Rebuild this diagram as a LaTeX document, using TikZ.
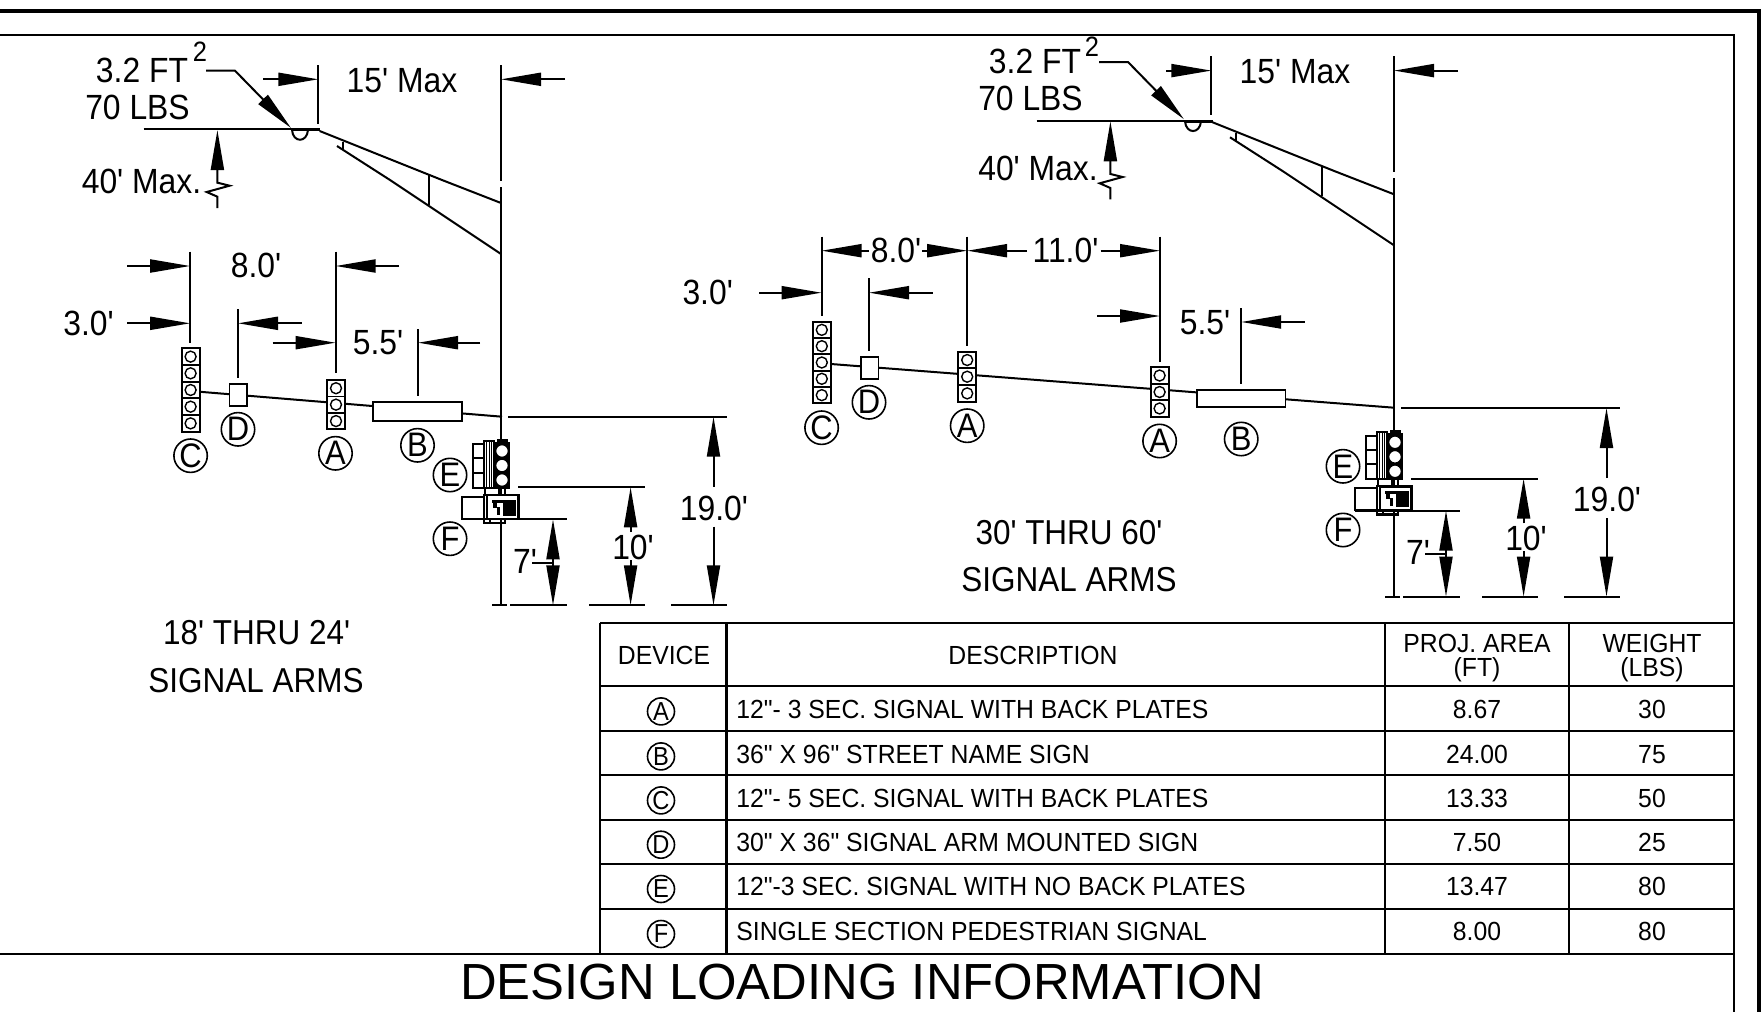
\documentclass[tikz,border=0pt]{standalone}
\usepackage{fontspec}
\setmainfont{Liberation Sans}
\newfontfamily\narrowfont[FakeStretch=0.91]{Liberation Sans}
\newfontfamily\cellfont[FakeStretch=0.945]{Liberation Sans}
\usetikzlibrary{arrows.meta}

\begin{document}
\begin{tikzpicture}
	[%
	x=0.5pt, y=-0.5pt,%
	dimtext/.style  ={font=\narrowfont\fontsize{17.5}{20}\selectfont,	anchor=base,	inner sep=0pt},%
	armtext/.style  ={font=\narrowfont\fontsize{17.3}{20}\selectfont,	anchor=base,	inner sep=0pt},%
	suptext/.style  ={font=\narrowfont\fontsize{14}{16}\selectfont,	anchor=base,	inner sep=0pt},%
	celltext/.style ={font=\cellfont\fontsize{13.1}{15}\selectfont,	anchor=base,	inner sep=0pt},%
	device/.style   ={circle,	draw,	line width=0.8pt,	inner sep=0pt,	minimum size=16.7pt,	font=\narrowfont\fontsize{17}{19}\selectfont},%
	devicesm/.style ={circle,	draw,	line width=0.8pt,	inner sep=0pt,	minimum size=13.5pt,	font=\narrowfont\fontsize{13}{15}\selectfont},%
	wire/.style     ={line width=1pt},%
	dimarrow/.style ={line width=1pt,	-{Triangle[length=20pt,width=6.5pt]}},%
	part/.style     ={line width=0.9pt,	fill=white},%
	]

	% section of a signal head: x, top y, number of sections, section height
	\newcommand{\sighead}[4]{%
		\foreach \i in {1,...,#3} {%
			\draw [part] (#1-9,#2+#4*\i-#4) rectangle (#1+9,#2+#4*\i);
			\draw [line width=0.7pt] (#1,#2+#4*\i-#4/2) circle (5.5);
		}%
	}

	\useasboundingbox (0,0) rectangle (1763,1012);

	% sheet frame
	\draw [line width=2pt] (0,10.7) -- (1759,10.7) -- (1759,1012);
	\draw [line width=1.1pt] (0,35) -- (1734,35) -- (1734,1012);
	\draw [line width=1.1pt] (0,954) -- (1734,954);

	% parts that both arms share
	\foreach \dx/\dy/\side/\tail in {0/0/l/263,893/-8.7/r/273} {%
	\begin{scope}[shift={(\dx,\dy)}]
		% mast arm and pole
		\draw [wire] (501,65) -- (501,181);
		\draw [wire] (501,187) -- (501,605.3);
		\draw [wire] (143.5,129.3) -- (319.6,129.3);
		\draw [line width=1.4pt] (292,130) -- (319.6,130);
		\draw [wire] (292,130) .. controls (293,143) and (307,143) .. (308,130);
		\draw [wire] (319.6,131) -- (442,180) -- (501,203);
		\draw [wire] (337,146) -- (390,180) -- (501,254);
		\draw [wire] (342.5,141.7) -- (342.5,150);
		\draw [wire] (428.6,175) -- (428.6,205);

		% load on the arm tip
		\node (area\side) at (142,82) [dimtext] {3.2 FT};
		\node (lbs\side) at (137.5,119) [dimtext] {70 LBS};
		\draw [dimarrow] (206,70.7) -- (235,70.7) -- (291,128);

		% arm length
		\node (span\side) at (402,92) [dimtext] {15' Max};
		\draw [wire] (318.4,65) -- (318.4,124);
		\draw [dimarrow] (\tail,79.3) -- (318.4,79.3);
		\draw [dimarrow] (565,79.3) -- (501,79.3);
		\draw [dimarrow] (217.4,208) -- (217.4,196.7) -- (206.7,192) -- (229.6,185.7) -- (217.4,182.7) -- (217.4,130);

		% heights
		\draw [wire] (508,416.7) -- (727,416.7);
		\draw [wire] (518,487.3) -- (645,487.3);
		\draw [wire] (462,519.3) -- (567,519.3);
		\draw [wire] (492,605.3) -- (507,605.3);
		\draw [wire] (510,605.3) -- (567,605.3);
		\draw [wire] (589,605.3) -- (645,605.3);
		\draw [wire] (671.4,605.3) -- (727,605.3);
		\draw [dimarrow] (713.5,486.7) -- (713.5,416.7);
		\draw [dimarrow] (713.5,526.7) -- (713.5,605.3);
		\draw [dimarrow] (630.6,532) -- (630.6,487.3);
		\draw [dimarrow] (630.6,560) -- (630.6,605.3);
		\draw [dimarrow] (553,562.7) -- (553,519.3);
		\draw [dimarrow] (553,562.7) -- (553,605.3);
		\draw [wire] (532,562.7) -- (553,562.7);
		\node (hsev\side) at (525,573) [dimtext] {7'};
		\node (hten\side) at (633,559) [dimtext] {10'};
		\node (hnin\side) at (714,520) [dimtext] {19.0'};

		% side mounted signal
		\foreach \i/\j in {444.3/458.3,458.3/472.7,472.7/487.7}%
			\draw [part] (472.7,\i) rectangle (483.7,\j);
		\draw [part] (483.7,441) rectangle (494,487.7);
		\foreach \i in {486.5,489,491.5}%
			\draw [line width=0.5pt] (\i,441) -- (\i,487.7);
		\draw [line width=1pt] (485,487.7) -- (485,495);
		\draw [line width=1pt] (499,487.7) -- (499,495);
		\draw [line width=1pt] (505,487.7) -- (505,495);
		\draw [fill=black] (497,439) rectangle (507,442.7);
		\draw [line width=1pt, fill=black] (494,442.7) rectangle (509.4,487.7);
		\foreach \i in {451,465.5,480}%
			\draw [line width=0.9pt, fill=white] (502,\i) circle (6.6);

		% pedestrian signal
		\draw [part] (462,496.7) rectangle (483.7,519);
		\draw [part] (483.7,495) rectangle (490,522.7);
		\draw [line width=1.2pt] (484,519) rectangle (505,523);
		\draw [line width=1.2pt, fill=white] (487,495) rectangle (518.4,519);
		\fill (492,499.5) rectangle (516,503);
		\fill (503,503) rectangle (516,516);
		\fill (493,503) rectangle (497,508);
		\fill (497,507) rectangle (500,515);

		% device labels at the pole
		\node (devE\side) at (450,475) [device] {E};
		\node (devF\side) at (450,538.7) [device] {F};
	\end{scope}
	}

	% 18' THRU 24'
	\node (expl) at (200,61.7) [suptext] {2};
	\node (maxl) at (141.5,193) [dimtext] {40' Max.};
	\foreach \i/\j/\k/\l in {190.2/251.7/190.2/342.7,335.6/251.7/335.6/373,238/309/238/377.7,418/329/418/396}%
		\draw [wire] (\i,\j) -- (\k,\l);
	\draw [dimarrow] (127.4,266) -- (190.2,266);
	\draw [dimarrow] (399,266) -- (335.6,266);
	\draw [dimarrow] (127.4,323.3) -- (190.2,323.3);
	\draw [dimarrow] (301.6,323.3) -- (238,323.3);
	\draw [dimarrow] (272.5,342.7) -- (335.6,342.7);
	\draw [dimarrow] (480,342.7) -- (418,342.7);
	\node (lwide) at (256,277) [dimtext] {8.0'};
	\node (lend) at (88.5,335) [dimtext] {3.0'};
	\node (lname) at (378,354) [dimtext] {5.5'};

	\draw [wire] (199,391.7) -- (502,416.7);
	\draw [part] (229.4,384) rectangle (247,405.7);
	\draw [part] (372.6,402.3) rectangle (462,421.3);
	\sighead{190.6}{348.3}{5}{16.68}
	\sighead{336}{380}{3}{16.43}
	\node (lC) at (190.6,455.7) [device] {C};
	\node (lD) at (238,429.3) [device] {D};
	\node (lA) at (335.5,453.3) [device] {A};
	\node (lB) at (417.5,445.3) [device] {B};
	\node (ltitlea) at (256.6,644) [armtext] {18' THRU 24'};
	\node (ltitleb) at (256,692) [armtext] {SIGNAL ARMS};

	% 30' THRU 60'
	\node (expr) at (1092,56.7) [suptext] {2};
	\node (maxr) at (1038,180) [dimtext] {40' Max.};
	\foreach \i/\j/\k/\l in {821.6/236.7/821.6/316,967.2/236.7/967.2/346,1160/236.7/1160/361.7,869/278.3/869/350.7,1241.2/308.3/1241.2/384}%
		\draw [wire] (\i,\j) -- (\k,\l);
	\draw [dimarrow] (869,250.7) -- (821.6,250.7);
	\draw [dimarrow] (921.8,250.7) -- (967.2,250.7);
	\draw [dimarrow] (1027,250.7) -- (967.2,250.7);
	\draw [dimarrow] (1100.7,250.7) -- (1160,250.7);
	\draw [dimarrow] (759,292.7) -- (821.6,292.7);
	\draw [dimarrow] (932.7,292.7) -- (869,292.7);
	\draw [dimarrow] (1097,316) -- (1160,316);
	\draw [dimarrow] (1304.8,322) -- (1241.2,322);
	\node (rwide) at (896,262) [dimtext] {8.0'};
	\node (rlong) at (1065.5,262) [dimtext] {11.0'};
	\node (rend) at (707.7,304) [dimtext] {3.0'};
	\node (rname) at (1205,334) [dimtext] {5.5'};

	\draw [wire] (830.9,364) -- (1394,407.7);
	\draw [part] (860.8,356.7) rectangle (878.4,378.7);
	\draw [part] (1197,390) rectangle (1285.4,407.3);
	\sighead{821.8}{321.7}{5}{16.32}
	\sighead{967.2}{351.7}{3}{16.67}
	\sighead{1159.6}{367.3}{3}{16.47}
	\node (rC) at (821.6,427.7) [device] {C};
	\node (rD) at (869,402.3) [device] {D};
	\node (rAa) at (967.2,425.7) [device] {A};
	\node (rAb) at (1159.6,441) [device] {A};
	\node (rB) at (1241.2,439) [device] {B};
	\node (rtitlea) at (1069,544) [armtext] {30' THRU 60'};
	\node (rtitleb) at (1069,591.6) [armtext] {SIGNAL ARMS};

	% table
	\foreach \i in {623.3,686,730.7,775.3,820.3,864,909}%
		\draw [line width=1.1pt] (600,\i) -- (1734,\i);
	\foreach \i in {600,726.4,1385.3,1568.7}%
		\draw [line width=1.1pt] (\i,623.3) -- (\i,954);
	\node (hdevice) at (664,664) [celltext] {DEVICE};
	\node (hdescr) at (1033,664) [celltext] {DESCRIPTION};
	\node (harea) at (1477,652) [celltext] {PROJ. AREA};
	\node (hareb) at (1477,676.7) [celltext] {(FT)};
	\node (hwta) at (1652,652) [celltext] {WEIGHT};
	\node (hwtb) at (1652,676.7) [celltext] {(LBS)};
	\foreach \i/\j/\k/\l/\m in {%
		718/A/{12"- 3 SEC. SIGNAL WITH BACK PLATES}/8.67/30,%
		763/B/{36" X 96" STREET NAME SIGN}/24.00/75,%
		807/C/{12"- 5 SEC. SIGNAL WITH BACK PLATES}/13.33/50,%
		851.3/D/{30" X 36" SIGNAL ARM MOUNTED SIGN}/7.50/25,%
		895.6/E/{12"-3 SEC. SIGNAL WITH NO BACK PLATES}/13.47/80,%
		940.6/F/{SINGLE SECTION PEDESTRIAN SIGNAL}/8.00/80%
		} {%
		\node (key\j) at (661,\i-6.6) [devicesm] {\j};
		\node (descr\j) at (736,\i) [celltext, anchor=base west] {\k};
		\node (area\j) at (1477,\i) [celltext] {\l};
		\node (wt\j) at (1652,\i) [celltext] {\m};
	}

	\node (title) at (862,999.5) [font=\fontsize{25.4}{28}\selectfont, anchor=base, inner sep=0pt] {DESIGN LOADING INFORMATION};

\end{tikzpicture}
\end{document}
